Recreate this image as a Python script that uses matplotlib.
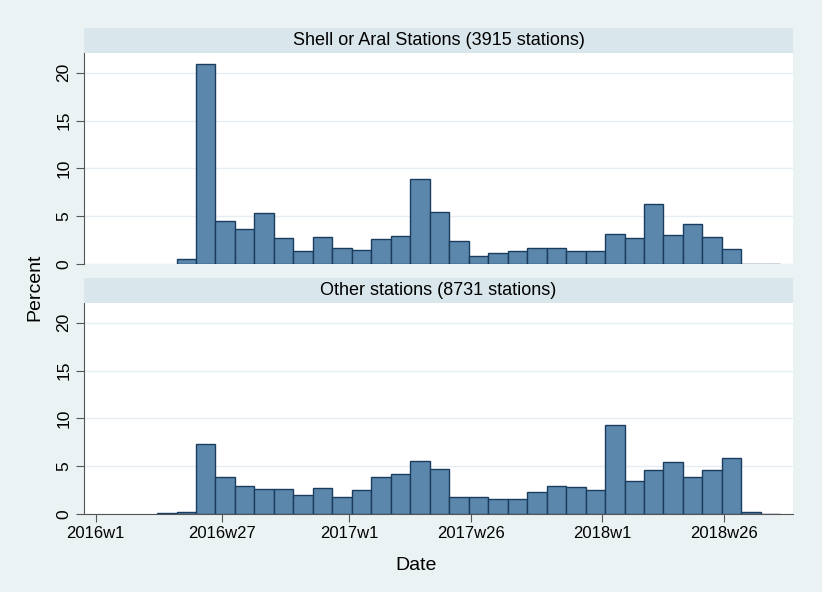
import numpy as np
import matplotlib
matplotlib.use('Agg')
import matplotlib.pyplot as plt

plt.rcParams['font.family'] = ['Liberation Sans', 'DejaVu Sans']

# 4-week bins, weeks counted from 2016w1
first_bin_week = 12.6
bin_weeks = 4

shell_pct = [np.nan, 0.5, 20.9, 4.5, 3.7, 5.3, 2.7, 1.4, 2.8, 1.7, 1.5, 2.6, 2.9, 8.9, 5.4, 2.4,
             0.8, 1.2, 1.4, 1.7, 1.7, 1.4, 1.4, 3.1, 2.7, 6.3, 3.0, 4.2, 2.8, 1.6, 0.0, 0.0]
other_pct = [0.1, 0.2, 7.3, 3.8, 2.9, 2.6, 2.6, 2.0, 2.7, 1.8, 2.5, 3.8, 4.2, 5.5, 4.7, 1.8,
             1.7, 1.5, 1.55, 2.3, 2.9, 2.8, 2.5, 9.3, 3.4, 4.6, 5.4, 3.8, 4.6, 5.85, 0.15, 0.0]

panel_titles = ['Shell or Aral Stations (3915 stations)', 'Other stations (8731 stations)']
xtick_weeks = [0, 26, 52, 77, 104, 129]
xtick_labels = ['2016w1', '2016w27', '2017w1', '2017w26', '2018w1', '2018w26']
ytick_vals = [0, 5, 10, 15, 20]

bg = '#eaf2f3'
strip_col = '#d9e6eb'
bar_fill = '#5b87ad'
bar_edge = '#1a3d5e'
axis_col = '#555555'

fig = plt.figure(figsize=(8.22, 5.92), dpi=100)
fig.patch.set_facecolor(bg)

W = 822.0
H = 592.0
left = 84 / W
width = (793 - 84) / W

# plot boxes (top, bottom in pixels from top) and strips
panels = [(53.3, 264.0, 28.3), (303.3, 513.7, 278.3)]
edges = first_bin_week + bin_weeks * np.arange(len(shell_pct))

for k, (ptop, pbot, stop) in enumerate(panels):
    ax = fig.add_axes([left, 1 - pbot / H, width, (pbot - ptop) / H])
    ax.set_facecolor('white')
    vals = shell_pct if k == 0 else other_pct
    ax.bar(edges, vals, width=bin_weeks, align='edge', color=bar_fill,
           edgecolor=bar_edge, linewidth=1.0, zorder=3)
    ax.set_xlim(-2.4, 143.2)
    ax.set_ylim(0, 22.04)
    ax.set_yticks(ytick_vals)
    ax.set_yticklabels([str(v) for v in ytick_vals])
    for lab in ax.get_yticklabels():
        lab.set_rotation(90)
        lab.set_va('center')
    ax.grid(axis='y', color='#e6eef1', linewidth=1.0, zorder=0)
    ax.tick_params(axis='y', length=6, width=0.8, color=axis_col, labelsize=12.5, pad=3)
    for s in ['top', 'right']:
        ax.spines[s].set_visible(False)
    ax.spines['left'].set_color(axis_col)
    ax.spines['left'].set_linewidth(0.8)
    if k == 0:
        ax.spines['bottom'].set_visible(False)
        ax.set_xticks([])
    else:
        ax.spines['bottom'].set_color(axis_col)
        ax.spines['bottom'].set_linewidth(0.8)
        ax.set_xticks(xtick_weeks)
        ax.set_xticklabels(xtick_labels)
        ax.tick_params(axis='x', length=6, width=0.8, color=axis_col, labelsize=12, pad=3)

    sax = fig.add_axes([left, 1 - ptop / H, width, (ptop - stop) / H])
    sax.set_facecolor(strip_col)
    sax.set_xticks([])
    sax.set_yticks([])
    for s in sax.spines.values():
        s.set_visible(False)
    sax.text(0.5, 0.5, panel_titles[k], ha='center', va='center', fontsize=13,
             transform=sax.transAxes)

fig.text(35 / W, 1 - 287 / H, 'Percent', rotation=90, ha='center', va='center', fontsize=14)
fig.text(416 / W, 1 - 565 / H, 'Date', ha='center', va='center', fontsize=14)

fig.savefig('out.png', dpi=100, facecolor=fig.get_facecolor())
